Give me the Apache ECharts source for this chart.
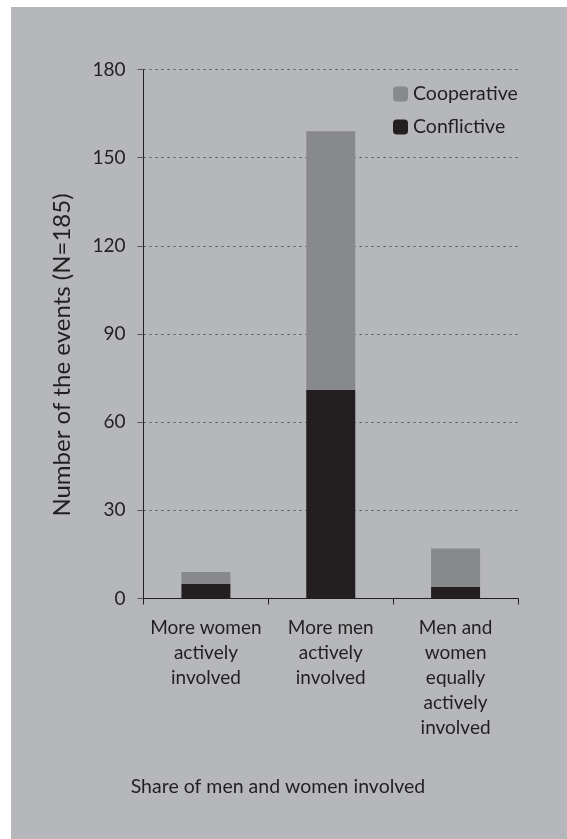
<!DOCTYPE html>
<html>
<head>
<meta charset="utf-8">
<script src="https://cdn.jsdelivr.net/npm/echarts@6/dist/echarts.min.js"></script>
<style>
  html, body { margin: 0; padding: 0; background: #fff; }
  #panel { position: absolute; left: 11px; top: 7px; width: 556px; height: 832px; background: #b6b7bb; }
  #chart { position: absolute; left: 0; top: 0; width: 567px; height: 839px; }
</style>
</head>
<body>
<div id="panel"></div>
<div id="chart"></div>
<script>
// 数据
const categories = ['More women\nactively\ninvolved', 'More men\nactively\ninvolved', 'Men and\nwomen\nequally\nactively\ninvolved']
const conflictive = [5, 71, 4]
const cooperative = [4, 88, 13]
const yTicks = { min: 0, max: 180, interval: 30 }

const ink = '#231f20'
const font = 'Lato, "DejaVu Sans", sans-serif'

const myChart = echarts.init(document.getElementById('chart'))

const options = {
  backgroundColor: 'transparent',
  animation: false,
  textStyle: { fontFamily: font, color: ink },
  // 图例
  legend: {
    orient: 'vertical',
    left: 388,
    top: 79,
    itemWidth: 15,
    itemHeight: 15,
    itemGap: 13,
    data: ['Cooperative', 'Conflictive'],
    textStyle: { fontSize: 19.5, color: ink, fontFamily: font }
  },
  grid: {
    left: 143.5,
    right: 49,
    top: 69.5,
    bottom: 240.5
  },
  xAxis: {
    type: 'category',
    data: categories,
    axisLine: { lineStyle: { color: ink, width: 1 } },
    axisTick: { show: true, length: 6, lineStyle: { color: ink } },
    axisLabel: {
      interval: 0,
      margin: 17,
      fontSize: 19,
      lineHeight: 25,
      color: ink,
      fontFamily: font,
      align: 'center'
    }
  },
  yAxis: {
    type: 'value',
    min: yTicks.min,
    max: yTicks.max,
    interval: yTicks.interval,
    axisLine: { show: true, lineStyle: { color: ink, width: 1 } },
    axisTick: { show: true, length: 6, lineStyle: { color: '#555' } },
    axisLabel: { fontSize: 19, color: ink, margin: 18, fontFamily: font },
    splitLine: { show: true, lineStyle: { type: [2, 4], color: '#4a4a4d', width: 1 } }
  },
  graphic: [
    // 纵轴标题
    {
      type: 'text',
      x: 62,
      y: 355,
      rotation: Math.PI / 2,
      style: {
        text: 'Number of the events (N=185)',
        fontSize: 24,
        fill: ink,
        fontFamily: font,
        align: 'center',
        verticalAlign: 'middle'
      }
    },
    // 横轴标题
    {
      type: 'text',
      x: 278,
      y: 787,
      style: {
        text: 'Share of men and women involved',
        fontSize: 19.5,
        fill: ink,
        fontFamily: font,
        align: 'center',
        verticalAlign: 'middle'
      }
    }
  ],
  series: [
    {
      name: 'Conflictive',
      type: 'bar',
      stack: 'total',
      barWidth: 49,
      data: conflictive,
      itemStyle: { color: ink }
    },
    {
      name: 'Cooperative',
      type: 'bar',
      stack: 'total',
      barWidth: 49,
      data: cooperative,
      itemStyle: { color: '#88898d' }
    }
  ]
}

myChart.setOption(options)
</script>
</body>
</html>
